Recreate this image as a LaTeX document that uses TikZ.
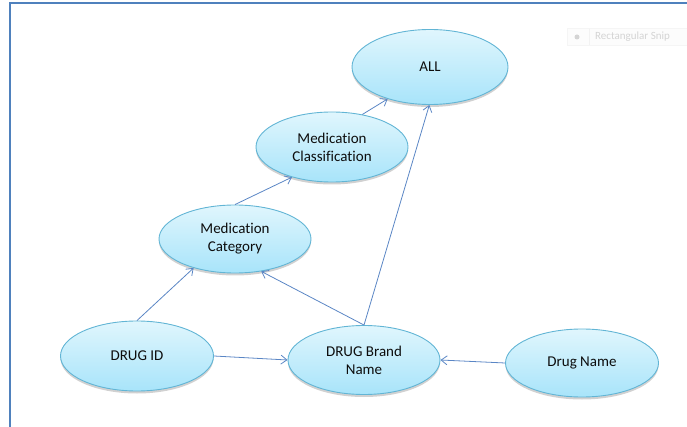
\documentclass[tikz,border=0pt]{standalone}
\usepackage{fontspec}
\setmainfont{Carlito}[Ligatures={NoCommon}]
\usetikzlibrary{shapes.geometric,arrows.meta,shadows}
\definecolor{frameblue}{HTML}{4F81BD}
\definecolor{linkblue}{HTML}{5A86C5}
\definecolor{ovaltop}{HTML}{E0F6FD}
\definecolor{ovalbot}{HTML}{A8E4FA}
\definecolor{ovaledge}{HTML}{62B5D5}
\definecolor{snipgray}{HTML}{D4D4D4}
\tikzset{
  oval/.style={ellipse, draw=ovaledge, line width=0.9pt,
    top color=ovaltop, bottom color=ovalbot,
    minimum width=#1, minimum height=70pt, inner sep=0pt,
    align=center, font=\fontsize{15}{18}\selectfont, text=black!95,
    drop shadow={shadow xshift=0pt, shadow yshift=-2.5pt, opacity=0.3, fill=black!60}},
  oval/.default=153pt,
  link/.style={draw=linkblue, line width=0.8pt,
    -{Straight Barb[length=6pt,width=9pt]}},
}
\begin{document}
\begin{tikzpicture}[x=1pt,y=-1pt]
  \useasboundingbox (0,0) rectangle (687,427);
  % window frame
  \draw[frameblue, line width=2pt] (10,427) -- (10,3) -- (687,3);
  % faded snipping-tool tag
  \node[draw=black!4, fill=black!1, minimum width=122pt, minimum height=17pt,
        anchor=west, inner sep=0pt] (snipbox) at (567,37) {};
  \fill[snipgray] (577,37) circle (2.5pt);
  \draw[black!5] (589,29) -- (589,45);
  \node[anchor=west, text=snipgray, font=\fontsize{11}{13}\selectfont, inner sep=0pt]
        (sniptext) at (595,37) {Rectangular Snip};

  % hierarchy nodes
  \node[oval=156pt, minimum height=75pt] (all) at (430,67) {ALL};
  \node[oval=152pt] (cls) at (332,147) {Medication\\Classification};
  \node[oval=152pt, minimum height=68pt] (cat) at (235,239) {Medication\\Category};
  \node[oval] (id) at (137,356) {DRUG ID};
  \node[oval=152pt, minimum height=69pt] (brand) at (364,360) {DRUG Brand\\Name};
  \node[oval, minimum height=68pt] (name) at (582,363) {Drug Name};

  % roll-up links
  \draw[link] (id.north) -- (cat.215);
  \draw[link] (id.east) -- (brand.west);
  \draw[link] (name.west) -- (brand.east);
  \draw[link] (brand.north) -- (cat.309);
  \draw[link] (brand.north) -- (all.269);
  \draw[link] (cat.north) -- (cls.217);
  \draw[link] (cls.47) -- (all.217);
\end{tikzpicture}
\end{document}
